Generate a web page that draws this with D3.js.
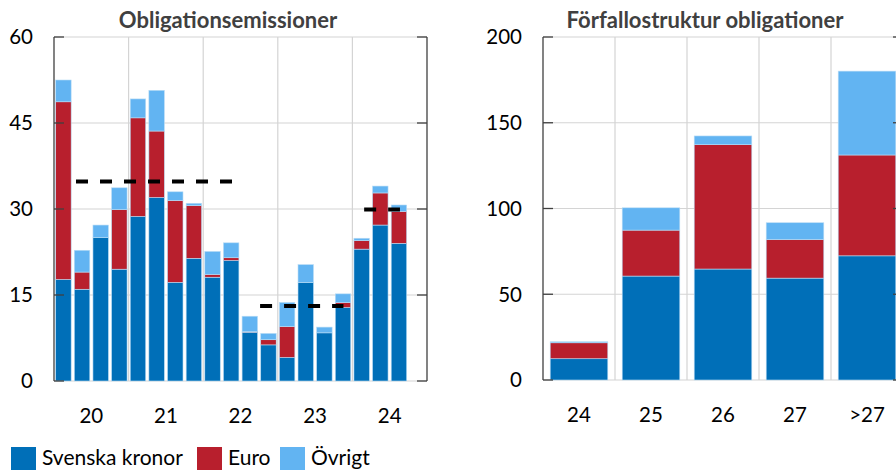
<!DOCTYPE html>
<html><head><meta charset="utf-8">
<script src="https://cdn.jsdelivr.net/npm/d3@7"></script>
<style>body{margin:0;background:#fff}svg{display:block}text{font-family:Lato,"Open Sans",sans-serif}</style>
</head><body>
<svg id="c" width="896" height="470"></svg>
<script>
// ---------- DATA ----------
const quarters = ["20Q1","20Q2","20Q3","20Q4","21Q1","21Q2","21Q3","21Q4","22Q1","22Q2","22Q3","22Q4","23Q1","23Q2","23Q3","23Q4","24Q1","24Q2","24Q3","24Q4"];
const years = ["20","21","22","23","24"];
const issueSEK   = [17.7,16.0,25.0,19.5,28.7,32.0,17.2,21.4,18.1,21.0,8.5,6.3,4.1,17.2,8.4,12.8,23.0,27.2,24.0,null];
const issueEUR   = [31.0,3.0,0,10.4,17.2,11.6,14.3,9.2,0.5,0.5,0.1,0.9,5.4,0,0,0.9,1.5,5.6,5.6,null];
const issueOther = [3.8,3.8,2.2,3.8,3.3,7.1,1.5,0.4,4.0,2.6,2.7,1.1,4.2,3.1,1.0,1.5,0.4,1.2,1.1,null];
// average lines: start / end (quarter position) and value
const avgStart = [1.18, 11.05, 16.63];
const avgEnd   = [9.56, 15.52, 18.55];
const avgValue = [34.8, 13.1, 29.9];
const leftTicks = [0,15,30,45,60];

const maturities = ["24","25","26","27",">27"];
const matSEK   = [12.4, 60.6, 64.7, 59.4, 72.4];
const matEUR   = [9.3, 26.8, 72.5, 22.5, 58.8];
const matOther = [0.6, 13.0, 5.1, 9.8, 48.9];
const rightTicks = [0,50,100,150,200];

const seriesNames = ["Svenska kronor","Euro","Övrigt"];
const colors = ["#006fb8","#b81f2d","#62b4f2"];

// ---------- DRAW ----------
const svg = d3.select("#c");
const gridC = "#d4d4d4", frameC = "#404040";

function panel(cfg){
  const g = svg.append("g");
  const y = d3.scaleLinear().domain(cfg.ydom).range([cfg.yb, cfg.yt]);
  const xb = d3.scaleBand().domain(cfg.cats).range([cfg.x0, cfg.x1]).paddingInner(cfg.pi).paddingOuter(cfg.po);
  const xg = d3.scaleBand().domain(cfg.groups).range([cfg.x0, cfg.x1]);
  g.selectAll(".hg").data(cfg.ticks).join("line")
    .attr("x1",cfg.x0).attr("x2",cfg.x1).attr("y1",d=>y(d)).attr("y2",d=>y(d))
    .attr("stroke",gridC).attr("stroke-width",1.2);
  g.selectAll(".vg").data(cfg.groups.slice(1)).join("line")
    .attr("x1",d=>xg(d)).attr("x2",d=>xg(d)).attr("y1",cfg.yt).attr("y2",cfg.yb)
    .attr("stroke",gridC).attr("stroke-width",1.2);
  const rows = cfg.cats.map((c,i)=>({cat:c, s0:cfg.s[0][i], s1:cfg.s[1][i], s2:cfg.s[2][i]})).filter(r=>r.s0!=null);
  const stack = d3.stack().keys(["s0","s1","s2"])(rows);
  stack.forEach((layer,k)=>{
    g.selectAll(null).data(layer).join("rect")
      .attr("x",d=>xb(d.data.cat)).attr("width",xb.bandwidth())
      .attr("y",d=>y(d[1])).attr("height",d=>Math.max(0,y(d[0])-y(d[1])))
      .attr("fill",colors[k]).attr("stroke","#b9dcf5").attr("stroke-width",0.6)
      .attr("stroke-opacity",d=>d[1]-d[0]>0?1:0);
  });
  [cfg.x0, cfg.x1].forEach(xx=>{
    g.append("line").attr("x1",xx).attr("x2",xx).attr("y1",cfg.yt).attr("y2",cfg.yb)
      .attr("stroke",frameC).attr("stroke-width",1.3);
  });
  g.selectAll(".tl").data(cfg.ticks).join("line")
    .attr("x1",cfg.x0).attr("x2",cfg.x0+10).attr("y1",d=>y(d)).attr("y2",d=>y(d))
    .attr("stroke",frameC).attr("stroke-width",1.3);
  g.selectAll(".tr").data(cfg.ticks).join("line")
    .attr("x1",cfg.x1-10).attr("x2",cfg.x1).attr("y1",d=>y(d)).attr("y2",d=>y(d))
    .attr("stroke",frameC).attr("stroke-width",1.3);
  g.selectAll(".yl").data(cfg.ticks).join("text")
    .attr("x",cfg.x0-21).attr("y",d=>y(d)).attr("dy","0.36em").attr("text-anchor","end")
    .attr("font-size",20.5).attr("fill","#000").text(d=>d);
  g.selectAll(".xl").data(cfg.groups).join("text")
    .attr("x",d=>xg(d)+xg.bandwidth()/2).attr("y",cfg.yb+42).attr("text-anchor","middle")
    .attr("font-size",20.5).attr("fill","#000").text(d=>d);
  g.append("text").attr("x",cfg.tx).attr("y",28).attr("text-anchor","middle")
    .attr("font-size",22).attr("font-weight","bold").attr("fill","#404040").text(cfg.title);
  return {g,y};
}

const L = panel({x0:54,x1:427,yt:37,yb:381,ydom:[0,60],ticks:leftTicks,cats:quarters,groups:years,
  pi:0.17,po:0.09,s:[issueSEK,issueEUR,issueOther],title:"Obligationsemissioner",tx:228});
const qx = d3.scaleLinear().domain([0,quarters.length]).range([54,427]);
L.g.selectAll(".avg").data(avgValue).join("line")
  .attr("x1",(d,i)=>qx(avgStart[i])).attr("x2",(d,i)=>qx(avgEnd[i]))
  .attr("y1",d=>L.y(d)).attr("y2",d=>L.y(d))
  .attr("stroke","#000").attr("stroke-width",4).attr("stroke-dasharray","12,12");

panel({x0:543,x1:903,yt:37,yb:380,ydom:[0,200],ticks:rightTicks,cats:maturities,groups:maturities,
  pi:0.2,po:0.1,s:[matSEK,matEUR,matOther],title:"Förfallostruktur obligationer",tx:705});

const lg = svg.append("g");
const lx = [11,197,280];
seriesNames.forEach((n,i)=>{
  lg.append("rect").attr("x",lx[i]).attr("y",447).attr("width",25).attr("height",23).attr("fill",colors[i]);
  lg.append("text").attr("x",lx[i]+31).attr("y",465).attr("font-size",21).attr("fill","#000").text(n);
});
</script>
</body></html>
